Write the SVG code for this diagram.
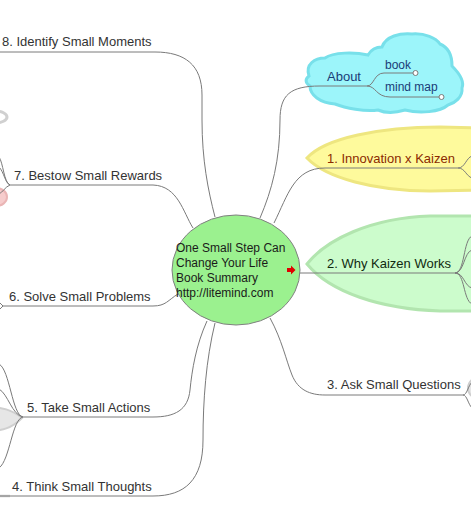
<svg xmlns="http://www.w3.org/2000/svg" width="471" height="522" viewBox="0 0 471 522">
<style>
.c{fill:none;stroke:#7a7a7a;stroke-width:1}
.t{font-family:"Liberation Sans",Arial,sans-serif;font-size:13px;fill:#333}
.s{font-size:12px}
.ghost{fill:#e6e6e6;stroke:#cfcfcf;stroke-width:2}
</style>
<rect width="471" height="522" fill="#fff"/>
<!-- partial off-screen shapes -->
<g id="offscreen">
<ellipse cx="-5" cy="117" rx="12" ry="6" fill="none" stroke="#d0d0d0" stroke-width="3"/>
<ellipse cx="-4" cy="197" rx="11" ry="9" fill="#f6cccc" stroke="#eab5b5" stroke-width="2"/>
<path class="ghost" d="M22,418 C12,410 4,407 -20,406 L-20,432 C4,431 12,428 22,418 Z"/>
<ellipse cx="482" cy="388" rx="14" ry="12" class="ghost"/>
<line x1="0" y1="496" x2="10" y2="496" stroke="#cfcfcf" stroke-width="2.5"/>
</g>
<!-- node shapes -->
<g id="about">
<path d="M309,76 C305,64 315,58 325,58 C333,52 355,52 368,55 C372,48 378,47 382,47 C386,36 400,33 412,34 C425,33 436,38 440,44 C450,48 452,58 452,66 C458,72 465,80 462,88 C463,97 455,103 448,105 C440,112 420,114 405,110 C395,113 385,113 378,110 C365,112 345,108 335,104 C320,103 310,95 310,86 C305,83 305,79 309,76 Z" fill="#9cf5fa" stroke="#78e0ea" stroke-width="3"/>
<text class="t" x="327" y="81" style="fill:#1a3c78">About</text>
<text class="t s" x="385" y="69" style="fill:#1a3c78">book</text>
<text class="t s" x="385" y="91" style="fill:#1a3c78">mind map</text>
</g>
<g id="n1">
<path d="M307,158 C325,138 380,127 440,127 L480,128 L480,190 L430,191 C375,191 326,178 307,158 Z" fill="#fefa9c" stroke="#eee680" stroke-width="3"/>
<text class="t" x="327" y="163" style="fill:#8b2a00">1. Innovation x Kaizen</text>
</g>
<g id="n2">
<path d="M307,264 C326,240 370,218 430,216 L480,216 L480,311 L440,311 C380,309 330,292 307,264 Z" fill="#ccfccc" stroke="#b2e5af" stroke-width="3"/>
<text class="t" x="327" y="268" style="fill:#102a10">2. Why Kaizen Works</text>
</g>
<g id="n3"><text class="t" x="327" y="389">3. Ask Small Questions</text></g>
<g id="n4"><text class="t" x="12" y="491">4. Think Small Thoughts</text></g>
<g id="n5"><text class="t" x="27" y="412">5. Take Small Actions</text></g>
<g id="n6"><text class="t" x="9" y="301">6. Solve Small Problems</text></g>
<g id="n7"><text class="t" x="14" y="180">7. Bestow Small Rewards</text></g>
<g id="n8"><text class="t" x="2" y="46">8. Identify Small Moments</text></g>
<!-- connectors -->
<g id="connectors">
<path class="c" d="M260,218 C272,190 280,160 280,120 C280,95 290,86 320,86 L367,86"/>
<path class="c" d="M367,86 C374,86 374,73 384,73 L413,73"/>
<path class="c" d="M367,86 C376,86 376,97 390,97 L439,97"/>
<circle cx="415.5" cy="73" r="2.5" fill="#fff" stroke="#7a7a7a"/>
<circle cx="441.5" cy="97" r="2.5" fill="#fff" stroke="#7a7a7a"/>
<path class="c" d="M274,223 C288,195 294,168 325,168 L458,168"/>
<path class="c" d="M458,168 C465,168 466,158 472,156"/>
<path class="c" d="M458,168 C465,168 466,176 472,178"/>
<path class="c" d="M300,273 L455,273"/>
<path class="c" d="M455,273 C465,273 463,240 472,236"/>
<path class="c" d="M455,273 C464,273 464,252 472,250"/>
<path class="c" d="M455,273 C464,273 464,286 472,288"/>
<path class="c" d="M455,273 C465,273 463,300 472,304"/>
<path class="c" d="M270,318 C282,340 286,360 292,375 C298,390 310,395 325,395 L463,395"/>
<path class="c" d="M463,395 C467,395 468,386 472,382"/>
<path class="c" d="M463,395 C467,395 468,404 472,408"/>
<path class="c" d="M215,217 C208,190 202,160 202,120 L202,95 C202,65 185,52 155,52 L0,52"/>
<path class="c" d="M193,228 C183,212 178,186 153,185 L10,185"/>
<path class="c" d="M10,185 C4,183 3,162 -1,157"/>
<path class="c" d="M10,185 C5,183 4,172 -1,167"/>
<path class="c" d="M10,185 C5,187 3,192 -1,194"/>
<path class="c" d="M178,294 C168,300 166,306 153,306 L3,306"/>
<path class="c" d="M3,306 L-1,302"/>
<path class="c" d="M3,306 L-1,310"/>
<path class="c" d="M207,321 C196,345 192,370 190,390 C188,410 175,417 153,417 L23,417"/>
<path class="c" d="M23,417 C12,415 10,370 -1,364"/>
<path class="c" d="M23,417 C12,415 8,394 -1,389"/>
<path class="c" d="M23,417 C12,419 10,460 -1,468"/>
<path class="c" d="M215,323 C206,360 203,400 203,440 C203,480 185,496 153,496 L0,496"/>
</g>
<g id="center">
<ellipse cx="236" cy="270" rx="64" ry="55" fill="#9bf18f" stroke="#808080" stroke-width="1"/>
<text class="t s" style="fill:#1a1a1a"><tspan x="176" y="252">One Small Step Can</tspan><tspan x="176" y="267">Change Your Life</tspan><tspan x="176" y="282">Book Summary</tspan><tspan x="176" y="297">http://litemind.com</tspan></text>
<path d="M287,268 L291,268 L291,265.5 L295.5,270 L291,274.5 L291,272 L287,272 Z" fill="#e00000"/>
</g>
</svg>
